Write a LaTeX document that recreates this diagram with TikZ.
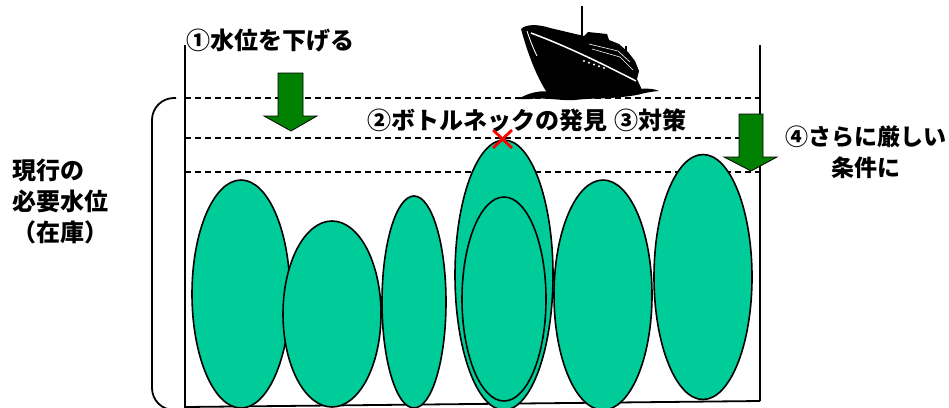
\documentclass[tikz,border=0pt]{standalone}
\usepackage{fontspec}
\setmainfont{Noto Sans CJK JP}
\usetikzlibrary{shapes.geometric}
\definecolor{tankgreen}{RGB}{0,204,153}
\definecolor{arrowgreen}{RGB}{0,128,0}
\definecolor{markred}{RGB}{255,0,0}
\begin{document}
\begin{tikzpicture}[x=1pt,y=-1pt,
  blob/.style={ellipse, draw=black, line width=1.6pt, fill=tankgreen, inner sep=0pt},
  wall/.style={line width=1.8pt, draw=black},
  level/.style={dashed, dash pattern=on 6pt off 4pt, line width=1.6pt},
  sinkarrow/.style={draw=black, line width=0.8pt, fill=arrowgreen},
  caption/.style={font=\fontsize{24}{31}\selectfont\bfseries, inner sep=0pt}]
\useasboundingbox (0,0) rectangle (949,407);
\clip (0,0) rectangle (949,407);

% water levels
\draw[level] (185,98) -- (760,98);
\draw[level] (185,138) -- (760,138);
\draw[level] (185,172) -- (760,172);

% tank walls
\draw[wall] (185,45) -- (185,412);
\draw[wall] (760,45) -- (760,401);
\draw[wall] (185,407) -- (760,401);

% bracket for the current level
\draw[wall, rounded corners=22pt] (176,98) -- (152,98) -- (152,410) -- (178,410);

% stock blobs
\node[blob, minimum width=98pt, minimum height=228pt] (b1) at (241,294) {};
\node[blob, minimum width=98pt, minimum height=186pt] (b2) at (332,314) {};
\node[blob, minimum width=64pt, minimum height=212pt] (b3) at (414,302) {};
\node[blob, minimum width=98pt, minimum height=270pt] (b4) at (504,275) {};
\node[blob, minimum width=84pt, minimum height=204pt] (b4in) at (504,299) {};
\node[blob, minimum width=98pt, minimum height=230pt] (b5) at (603,295) {};
\node[blob, minimum width=98pt, minimum height=245pt] (b6) at (703,277) {};

% bottleneck mark
\draw[markred, line width=2.8pt] (493,130) -- (512,148) (512,130) -- (493,148);

% lowering arrows
\draw[sinkarrow] (278,73) -- (303,73) -- (303,116) -- (317,116) -- (291,131)
  -- (264,116) -- (278,116) -- cycle;
\draw[sinkarrow] (739,114) -- (763,114) -- (763,157) -- (777,157) -- (751,171)
  -- (724,157) -- (739,157) -- cycle;

% ship
\fill[black] (521,29) .. controls (526,24) and (538,24) .. (550,28) -- (584,36)
  -- (588,32) -- (607,34) -- (609,40) -- (619,44) -- (628,52) -- (635,61)
  -- (639,71) -- (637,79) -- (642,90) .. controls (610,93) and (575,94) .. (548,94)
  .. controls (538,80) and (528,55) .. (521,29) -- cycle;
\draw[black, line width=1.4pt] (582,6) -- (582,38);
\draw[black, line width=1.1pt] (626,46) -- (626,70);
\draw[white, line width=1.5pt] (531,33) .. controls (566,46) and (601,63) .. (636,81);
\draw[white, line width=0.6pt] (589,44) -- (618,51) -- (630,62);
\draw[white, line width=0.6pt] (592,49) -- (620,57) -- (633,70);
\draw[white, line width=0.9pt] (527,31) .. controls (530,40) and (533,48) .. (537,56);
\foreach \px in {584,589,594,599,604}
  \fill[white] (\px,{61+(\px-584)*0.35}) circle (1.2pt);
\fill[black] (518,99) .. controls (530,92) and (542,90) .. (552,92)
  .. controls (580,94) and (615,91) .. (640,89)
  .. controls (648,88) and (655,89) .. (659,91)
  .. controls (645,92) and (640,95) .. (630,96)
  .. controls (610,99) and (590,98) .. (575,100)
  .. controls (560,101) and (545,97) .. (530,99) -- cycle;

% captions
\node[caption, anchor=west] (lower) at (186,41) {①水位を下げる};
\node[caption, anchor=west] (find) at (367,120) {②ボトルネックの発見\hspace{0.3em}③対策};
\node[caption, font=\fontsize{23}{31}\selectfont\bfseries, align=center] (tighter)
  at (866,152) {④さらに厳しい\\条件に};
\node[caption, align=left, anchor=west] (current) at (12,201) {現行の\\必要水位\\（在庫）};
\end{tikzpicture}
\end{document}
